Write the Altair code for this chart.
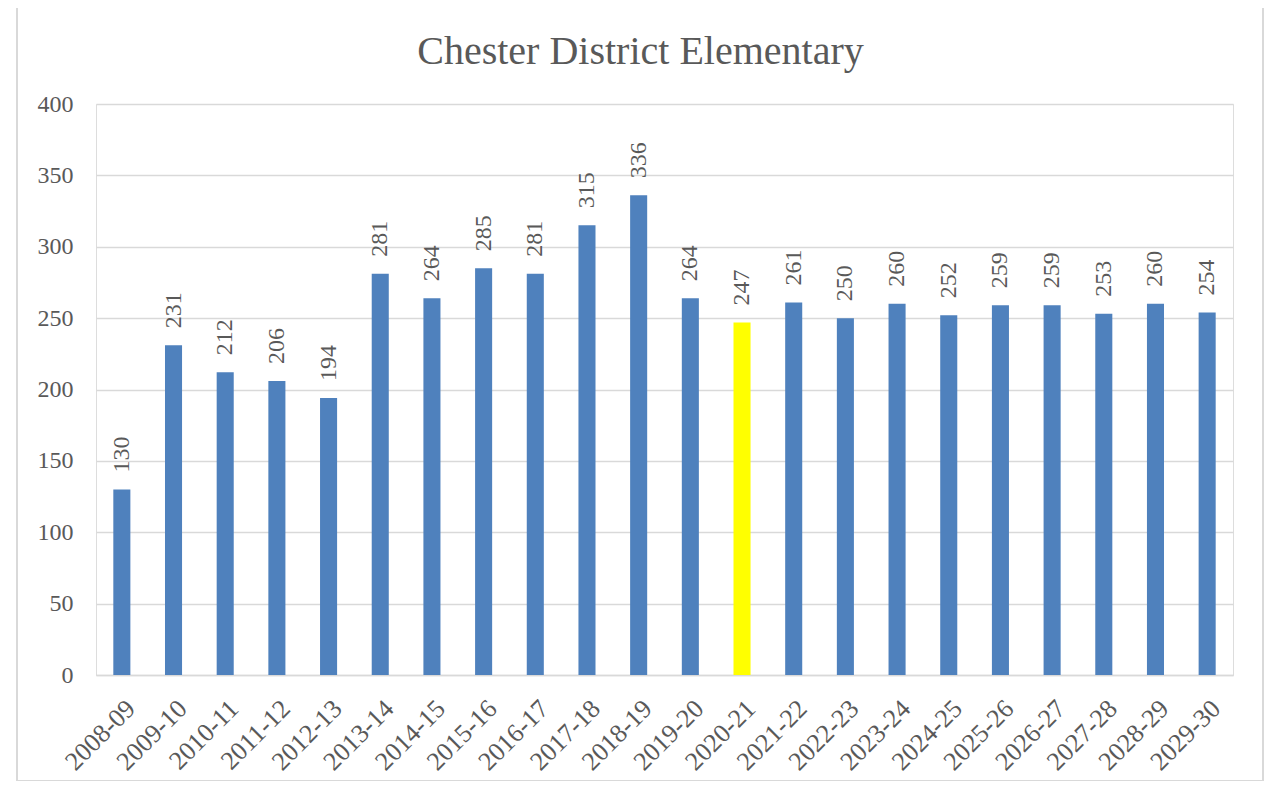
import altair as alt
import pandas as pd

years = ["2008-09", "2009-10", "2010-11", "2011-12", "2012-13", "2013-14", "2014-15",
         "2015-16", "2016-17", "2017-18", "2018-19", "2019-20", "2020-21", "2021-22",
         "2022-23", "2023-24", "2024-25", "2025-26", "2026-27", "2027-28", "2028-29", "2029-30"]
values = [130, 231, 212, 206, 194, 281, 264, 285, 281, 315, 336, 264, 247, 261,
          250, 260, 252, 259, 259, 253, 260, 254]
highlight_year = "2020-21"

df = pd.DataFrame({"year": years, "value": values})
df["hl"] = df["year"].eq(highlight_year).map({True: "yes", False: "no"})

FONT = "Liberation Serif"
GREY = "#595959"
GRID = "#D9D9D9"

x_enc = alt.X("year:N", sort=years, title=None,
              scale=alt.Scale(paddingInner=0.67, paddingOuter=0.335),
              axis=alt.Axis(labelAngle=315, labelAlign="right", labelBaseline="top",
                            labelPadding=20, labelFont=FONT, labelFontSize=26,
                            labelColor=GREY, ticks=False, domain=True,
                            domainColor=GRID, domainWidth=1.5, grid=False))
y_enc = alt.Y("value:Q", title=None,
              scale=alt.Scale(domain=[0, 400], nice=False),
              axis=alt.Axis(values=list(range(0, 401, 50)), labelFont=FONT,
                            labelFontSize=24, labelColor=GREY, labelPadding=23,
                            ticks=False, domain=False, grid=True, gridColor=GRID,
                            gridWidth=1.5))

base = alt.Chart(df)

bars = base.mark_bar().encode(
    x=x_enc, y=y_enc,
    color=alt.Color("hl:N", scale=alt.Scale(domain=["no", "yes"], range=["#4F81BD", "#FFFF00"]),
                    legend=None),
)

labels = base.mark_text(angle=270, align="left", baseline="middle", dx=17,
                        font=FONT, fontSize=24, color=GREY).encode(
    x=alt.X("year:N", sort=years), y="value:Q", text="value:Q")

frame = alt.Chart(alt.Data(values=[{}])).mark_rect(fill=None, stroke=GRID, strokeWidth=2).encode(
    x=alt.value(-79), x2=alt.value(1167), y=alt.value(-97), y2=alt.value(677))

chart = alt.layer(frame, bars, labels).properties(
    width=1137, height=571,
    title=alt.Title("Chester District Elementary", font=FONT, fontSize=40,
                    fontWeight="normal", color=GREY, anchor="middle", offset=-66, dx=-24),
    autosize=alt.AutoSizeParams(type="none"),
    padding={"left": 88, "top": 96, "right": 32, "bottom": 106},
).configure_view(stroke=None).configure(background="white")

chart.save("out.html", embed_options={"renderer": "svg", "actions": False})
